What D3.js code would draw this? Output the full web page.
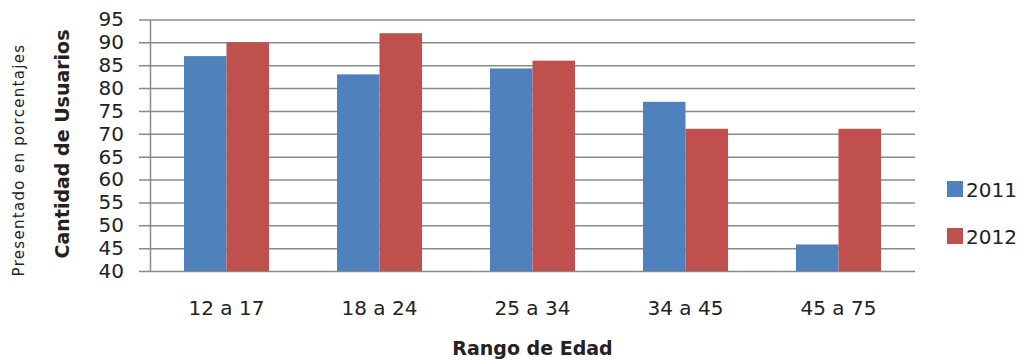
<!DOCTYPE html>
<html>
<head>
<meta charset="utf-8">
<script src="https://cdn.jsdelivr.net/npm/d3@7"></script>
<style>
  html, body { margin: 0; padding: 0; background: #fff; }
  svg { display: block; font-family: "DejaVu Sans", sans-serif; }
</style>
</head>
<body>
<svg id="chart" width="1025" height="360"></svg>
<script>
// Usuarios por rango de edad, en porcentaje
const categories = ["12 a 17", "18 a 24", "25 a 34", "34 a 45", "45 a 75"];
const seriesNames = ["2011", "2012"];
const values2011 = [87, 83, 84.3, 77, 45.8];
const values2012 = [90, 92, 86, 71.1, 71.1];
const yTicks = [40, 45, 50, 55, 60, 65, 70, 75, 80, 85, 90, 95];
const colors = ["#4F81BD", "#C0504D"];

const svg = d3.select("#chart");
const plotLeft = 150, plotRight = 915, plotTop = 19.5, plotBottom = 271;
const plotW = plotRight - plotLeft;

const rows = categories.map((c, i) => ({ cat: c, vals: [values2011[i], values2012[i]] }));

const x = d3.scaleBand().domain(categories).range([plotLeft, plotRight])
  .paddingInner(0.444).paddingOuter(0.222);
const xs = d3.scaleBand().domain(seriesNames).range([0, x.bandwidth()]);
const y = d3.scaleLinear().domain([40, 95]).range([plotBottom, plotTop]);

// Eje Y con líneas de cuadrícula
const yAxis = svg.append("g")
  .attr("transform", `translate(${plotLeft},0)`)
  .call(d3.axisLeft(y).tickValues(yTicks).tickSize(11).tickSizeOuter(0).tickPadding(15));
yAxis.selectAll(".tick line")
  .attr("x1", plotW)
  .attr("stroke", "#8a8a8a")
  .attr("stroke-width", 1.5);
yAxis.select(".domain").attr("stroke", "#8a8a8a").attr("stroke-width", 1.5);
yAxis.selectAll(".tick text")
  .attr("font-size", 20)
  .attr("font-family", "DejaVu Sans, sans-serif")
  .attr("fill", "#222");

// Barras agrupadas
const groups = svg.append("g").selectAll("g").data(rows).join("g")
  .attr("transform", d => `translate(${x(d.cat)},0)`);
groups.selectAll("rect")
  .data(d => d.vals.map((v, j) => ({ name: seriesNames[j], v, j })))
  .join("rect")
  .attr("x", d => xs(d.name))
  .attr("y", d => y(d.v))
  .attr("width", xs.bandwidth())
  .attr("height", d => y(40) - y(d.v))
  .attr("fill", d => colors[d.j]);

// Eje X (solo etiquetas)
const xAxis = svg.append("g")
  .attr("transform", `translate(0,${plotBottom})`)
  .call(d3.axisBottom(x).tickSize(0).tickPadding(30));
xAxis.select(".domain").remove();
xAxis.selectAll(".tick text")
  .attr("font-size", 20)
  .attr("font-family", "DejaVu Sans, sans-serif")
  .attr("fill", "#222");

// Títulos de ejes
svg.append("text")
  .attr("x", (plotLeft + plotRight) / 2)
  .attr("y", 355)
  .attr("text-anchor", "middle")
  .attr("font-size", 19)
  .attr("font-weight", "bold")
  .attr("fill", "#222")
  .text("Rango de Edad");

svg.append("text")
  .attr("transform", "translate(69,144) rotate(-90)")
  .attr("text-anchor", "middle")
  .attr("font-size", 19)
  .attr("font-weight", "bold")
  .attr("fill", "#222")
  .text("Cantidad de Usuarios");

svg.append("text")
  .attr("transform", "translate(24,160) rotate(-90)")
  .attr("text-anchor", "middle")
  .attr("font-size", 15)
  .attr("letter-spacing", 1.3)
  .attr("fill", "#222")
  .text("Presentado en porcentajes");

// Leyenda
const legend = svg.append("g").selectAll("g").data(seriesNames).join("g")
  .attr("transform", (d, i) => `translate(947,${181 + i * 47})`);
legend.append("rect")
  .attr("width", 16).attr("height", 16)
  .attr("fill", (d, i) => colors[i]);
legend.append("text")
  .attr("x", 19).attr("y", 16)
  .attr("font-size", 20)
  .attr("fill", "#222")
  .text(d => d);
</script>
</body>
</html>
